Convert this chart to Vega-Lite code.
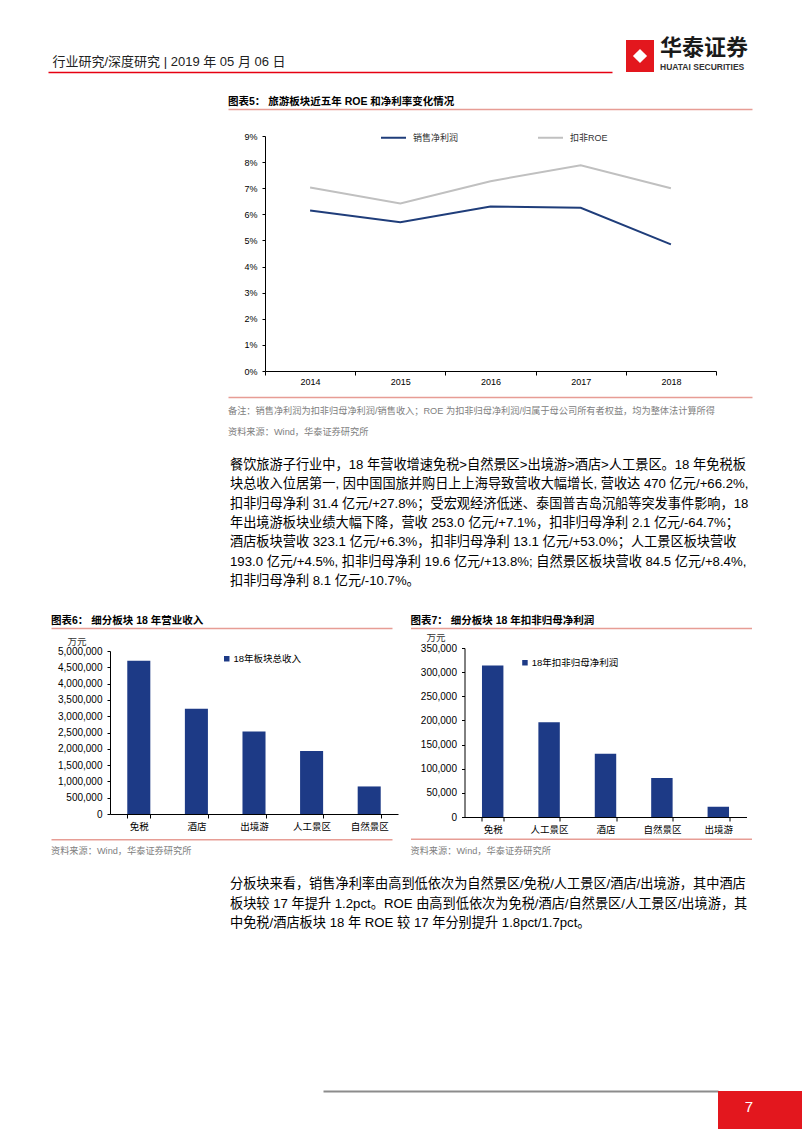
{
  "$schema": "https://vega.github.io/schema/vega-lite/v6.json",
  "background": "white",
  "padding": {"left": 48, "top": 36, "right": 0, "bottom": 0},
  "spacing": 0,
  "resolve": {"scale": {"color": "independent"}, "legend": {"color": "independent"}},
  "config": {
    "view": {"stroke": null},
    "font": "Liberation Sans, Noto Sans CJK SC",
    "axis": {"labelColor": "#000", "domainColor": "#000", "tickColor": "#000", "grid": false, "labelFont": "Liberation Sans, Noto Sans CJK SC", "titleFont": "Liberation Sans, Noto Sans CJK SC"},
    "title": {"fontWeight": "normal", "color": "#000", "font": "Liberation Sans, Noto Sans CJK SC"},
    "legend": {"labelFont": "Liberation Sans, Noto Sans CJK SC"}
  },
  "vconcat": [
    {
      "spacing": 14,
      "hconcat": [
        {
          "width": 564, "height": 32,
          "data": {"values": [{"v": 0}, {"v": 1}]},
          "mark": {"type": "rule", "opacity": 0, "strokeWidth": 0},
          "encoding": {"x": {"field": "v", "type": "quantitative", "scale": {"domain": [0, 1], "nice": false}, "axis": {"orient": "bottom", "domainColor": "#e60012", "domainWidth": 1.5, "ticks": false, "labels": false, "grid": false, "title": "行业研究/深度研究  | 2019 年 05 月 06 日", "titleX": 4, "titleY": -7, "titleAlign": "left", "titleAnchor": "start", "titleBaseline": "alphabetic", "titleFontSize": 13, "titleFontWeight": "normal", "titleColor": "#222"}}}
        },
        {
          "spacing": 6,
          "hconcat": [
            {
              "width": 28, "height": 32,
              "view": {"fill": "#e3171e", "stroke": null},
              "data": {"values": [{"k": 1}]},
              "mark": {"type": "point", "shape": "diamond", "filled": true, "color": "white", "opacity": 1, "size": 200},
              "encoding": {}
            },
            {
              "width": 90, "height": 32,
              "data": {"values": [{"k": 1}]},
              "mark": {"type": "point", "opacity": 0, "size": 0},
              "encoding": {},
              "title": {"text": "华泰证券", "subtitle": "HUATAI SECURITIES", "orient": "top", "anchor": "start", "offset": -32, "fontSize": 22, "fontWeight": "bold", "color": "#1a1a1a", "subtitleFontSize": 8.5, "subtitleColor": "#333", "subtitlePadding": 3, "subtitleFontWeight": "bold"}
            }
          ]
        }
      ]
    },
    {"width": 1, "height": 24, "data": {"values": [{}]}, "mark": {"type": "point", "opacity": 0, "size": 0}, "encoding": {}},
    {
      "spacing": 0,
      "resolve": {"scale": {"color": "independent"}, "legend": {"color": "independent"}},
      "hconcat": [
        {"width": 180, "height": 1, "data": {"values": [{}]}, "mark": {"type": "point", "opacity": 0, "size": 0}, "encoding": {}},
        {
          "spacing": 0,
          "resolve": {"scale": {"color": "independent"}, "legend": {"color": "independent"}},
          "vconcat": [
            {
              "width": 524, "height": 15,
              "data": {"values": [{"v": 0}, {"v": 1}]},
              "mark": {"type": "rule", "opacity": 0, "strokeWidth": 0},
              "encoding": {"x": {"field": "v", "type": "quantitative", "scale": {"domain": [0, 1], "nice": false}, "axis": {"orient": "top", "domainColor": "#e79d95", "domainWidth": 1.5, "ticks": false, "labels": false, "grid": false, "title": null}}},
              "title": {"text": "图表5：  旅游板块近五年 ROE 和净利率变化情况", "orient": "top", "anchor": "start", "offset": 2, "fontSize": 10.5, "fontWeight": "bold", "color": "#000"}
            },
            {
              "spacing": 0,
              "resolve": {"scale": {"color": "independent"}, "legend": {"color": "independent"}},
              "hconcat": [
                {"width": 1, "height": 1, "data": {"values": [{}]}, "mark": {"type": "point", "opacity": 0, "size": 0}, "encoding": {}},
                {
                  "width": 451, "height": 235,
                  "data": {"values": [
                    {"year": "2014", "series": "销售净利润", "value": 0.0615},
                    {"year": "2015", "series": "销售净利润", "value": 0.0570},
                    {"year": "2016", "series": "销售净利润", "value": 0.0630},
                    {"year": "2017", "series": "销售净利润", "value": 0.0625},
                    {"year": "2018", "series": "销售净利润", "value": 0.0485},
                    {"year": "2014", "series": "扣非ROE", "value": 0.0703},
                    {"year": "2015", "series": "扣非ROE", "value": 0.0642},
                    {"year": "2016", "series": "扣非ROE", "value": 0.0727},
                    {"year": "2017", "series": "扣非ROE", "value": 0.0788},
                    {"year": "2018", "series": "扣非ROE", "value": 0.0700}
                  ]},
                  "mark": {"type": "line", "strokeWidth": 2},
                  "encoding": {
                    "x": {"field": "year", "type": "ordinal", "scale": {"type": "band", "paddingInner": 0, "paddingOuter": 0}, "axis": {"labelAngle": 0, "tickBand": "extent", "tickSize": 4, "labelPadding": 2, "labelFontSize": 9, "title": null}},
                    "y": {"field": "value", "type": "quantitative", "scale": {"domain": [0, 0.09], "nice": false}, "axis": {"values": [0, 0.01, 0.02, 0.03, 0.04, 0.05, 0.06, 0.07, 0.08, 0.09], "format": ".0%", "tickSize": 3, "labelPadding": 5, "labelFontSize": 9, "title": null, "minExtent": 36}},
                    "color": {"field": "series", "type": "nominal", "scale": {"domain": ["销售净利润", "扣非ROE"], "range": ["#1f3d7a", "#c0c0c0"]}, "legend": {"orient": "none", "legendX": 115, "legendY": -12, "direction": "horizontal", "title": null, "symbolType": "stroke", "symbolSize": 625, "symbolStrokeWidth": 2, "labelFontSize": 9, "labelColor": "#333", "columnPadding": 75, "padding": 0, "labelOffset": 6}}
                  }
                }
              ]
            },
            {
              "width": 524, "height": 11,
              "data": {"values": [{"v": 0}, {"v": 1}]},
              "mark": {"type": "rule", "opacity": 0, "strokeWidth": 0},
              "encoding": {"x": {"field": "v", "type": "quantitative", "scale": {"domain": [0, 1], "nice": false}, "axis": {"orient": "bottom", "domainColor": "#e79d95", "domainWidth": 1.5, "ticks": false, "labels": false, "grid": false, "title": null}}},
              "title": {"text": ["备注：销售净利润为扣非归母净利润/销售收入；ROE 为扣非归母净利润/归属于母公司所有者权益，均为整体法计算所得", "资料来源：Wind，华泰证券研究所"], "orient": "bottom", "anchor": "start", "offset": 10, "fontSize": 9.2, "lineHeight": 21, "color": "#808080", "fontWeight": "normal"}
            }
          ]
        }
      ]
    },
    {
      "spacing": 0,
      "hconcat": [
        {"width": 182, "height": 1, "data": {"values": [{}]}, "mark": {"type": "point", "opacity": 0, "size": 0}, "encoding": {}},
        {
          "width": 520, "height": 1,
          "data": {"values": [{}]}, "mark": {"type": "point", "opacity": 0, "size": 0}, "encoding": {},
          "title": {"text": [
            "餐饮旅游子行业中，18 年营收增速免税>自然景区>出境游>酒店>人工景区。18 年免税板",
            "块总收入位居第一, 因中国国旅并购日上上海导致营收大幅增长, 营收达 470 亿元/+66.2%,",
            "扣非归母净利 31.4 亿元/+27.8%；受宏观经济低迷、泰国普吉岛沉船等突发事件影响，18",
            "年出境游板块业绩大幅下降，营收 253.0 亿元/+7.1%，扣非归母净利 2.1 亿元/-64.7%；",
            "酒店板块营收 323.1 亿元/+6.3%，扣非归母净利 13.1 亿元/+53.0%；人工景区板块营收",
            "193.0 亿元/+4.5%, 扣非归母净利 19.6 亿元/+13.8%; 自然景区板块营收 84.5 亿元/+8.4%,",
            "扣非归母净利 8.1 亿元/-10.7%。"
          ], "orient": "bottom", "anchor": "start", "offset": 20, "fontSize": 13.2, "lineHeight": 19.3, "color": "#000", "fontWeight": "normal"}
        }
      ]
    },
    {"width": 1, "height": 28, "data": {"values": [{}]}, "mark": {"type": "point", "opacity": 0, "size": 0}, "encoding": {}},
    {
      "spacing": 0,
      "resolve": {"scale": {"color": "independent"}, "legend": {"color": "independent"}},
      "hconcat": [
        {"width": 3, "height": 1, "data": {"values": [{}]}, "mark": {"type": "point", "opacity": 0, "size": 0}, "encoding": {}},
        {
          "spacing": 12.5,
          "resolve": {"scale": {"color": "independent"}, "legend": {"color": "independent"}},
          "hconcat": [
            {
              "spacing": 0,
              "resolve": {"scale": {"color": "independent"}, "legend": {"color": "independent"}},
              "vconcat": [
                {
                  "width": 341, "height": 7.7,
                  "data": {"values": [{"v": 0}, {"v": 1}]},
                  "mark": {"type": "rule", "opacity": 0, "strokeWidth": 0},
                  "encoding": {"x": {"field": "v", "type": "quantitative", "scale": {"domain": [0, 1], "nice": false}, "axis": {"orient": "top", "domainColor": "#e79d95", "domainWidth": 1.5, "ticks": false, "labels": false, "grid": false, "title": null}}},
                  "title": {"text": "图表6：  细分板块 18 年营业收入", "orient": "top", "anchor": "start", "offset": 2, "fontSize": 10.5, "fontWeight": "bold", "color": "#000"}
                },
                {
                  "spacing": 0,
                  "resolve": {"scale": {"color": "independent"}, "legend": {"color": "independent"}},
                  "hconcat": [
                    {"width": 1, "height": 1, "data": {"values": [{}]}, "mark": {"type": "point", "opacity": 0, "size": 0}, "encoding": {}},
                    {
                      "width": 288, "height": 163,
                      "data": {"values": [
                        {"sector": "免税", "value": 4700000, "series": "18年板块总收入"},
                        {"sector": "酒店", "value": 3231000, "series": "18年板块总收入"},
                        {"sector": "出境游", "value": 2530000, "series": "18年板块总收入"},
                        {"sector": "人工景区", "value": 1930000, "series": "18年板块总收入"},
                        {"sector": "自然景区", "value": 845000, "series": "18年板块总收入"}
                      ]},
                      "mark": {"type": "bar"},
                      "encoding": {
                        "x": {"field": "sector", "type": "nominal", "sort": null, "scale": {"paddingInner": 0.6, "paddingOuter": 0.3}, "axis": {"labelAngle": 0, "tickBand": "extent", "tickSize": 4, "labelPadding": 3, "labelFontSize": 9.5, "title": null}},
                        "y": {"field": "value", "type": "quantitative", "scale": {"domain": [0, 5000000], "nice": false}, "axis": {"values": [0, 500000, 1000000, 1500000, 2000000, 2500000, 3000000, 3500000, 4000000, 4500000, 5000000], "format": ",d", "tickSize": 3, "labelPadding": 5, "labelFontSize": 10, "minExtent": 58, "title": "万元", "titleAngle": 0, "titleX": -43, "titleY": -10, "titleAlign": "left", "titleBaseline": "middle", "titleFontSize": 9.5, "titleFontWeight": "normal", "titleColor": "#333"}},
                        "color": {"field": "series", "type": "nominal", "scale": {"range": ["#1d3a86"]}, "legend": {"orient": "none", "legendX": 112, "legendY": 3, "title": null, "symbolType": "square", "symbolSize": 30, "labelFontSize": 9.5, "labelOffset": 2, "padding": 0}}
                      }
                    }
                  ]
                },
                {
                  "width": 341, "height": 8.3,
                  "data": {"values": [{"v": 0}, {"v": 1}]},
                  "mark": {"type": "rule", "opacity": 0, "strokeWidth": 0},
                  "encoding": {"x": {"field": "v", "type": "quantitative", "scale": {"domain": [0, 1], "nice": false}, "axis": {"orient": "bottom", "domainColor": "#e79d95", "domainWidth": 1.5, "ticks": false, "labels": false, "grid": false, "title": null}}},
                  "title": {"text": "资料来源：Wind，华泰证券研究所", "orient": "bottom", "anchor": "start", "offset": 8, "fontSize": 9.2, "color": "#808080", "fontWeight": "normal"}
                }
              ]
            },
            {
              "spacing": 0,
              "resolve": {"scale": {"color": "independent"}, "legend": {"color": "independent"}},
              "vconcat": [
                {
                  "width": 341, "height": 3.3,
                  "data": {"values": [{"v": 0}, {"v": 1}]},
                  "mark": {"type": "rule", "opacity": 0, "strokeWidth": 0},
                  "encoding": {"x": {"field": "v", "type": "quantitative", "scale": {"domain": [0, 1], "nice": false}, "axis": {"orient": "top", "domainColor": "#e79d95", "domainWidth": 1.5, "ticks": false, "labels": false, "grid": false, "title": null}}},
                  "title": {"text": "图表7：  细分板块 18 年扣非归母净利润", "orient": "top", "anchor": "start", "offset": 2, "fontSize": 10.5, "fontWeight": "bold", "color": "#000"}
                },
                {
                  "spacing": 0,
                  "resolve": {"scale": {"color": "independent"}, "legend": {"color": "independent"}},
                  "hconcat": [
                    {"width": 1, "height": 1, "data": {"values": [{}]}, "mark": {"type": "point", "opacity": 0, "size": 0}, "encoding": {}},
                    {
                      "width": 282, "height": 169,
                      "data": {"values": [
                        {"sector": "免税", "value": 314000, "series": "18年扣非归母净利润"},
                        {"sector": "人工景区", "value": 196000, "series": "18年扣非归母净利润"},
                        {"sector": "酒店", "value": 131000, "series": "18年扣非归母净利润"},
                        {"sector": "自然景区", "value": 81000, "series": "18年扣非归母净利润"},
                        {"sector": "出境游", "value": 21000, "series": "18年扣非归母净利润"}
                      ]},
                      "mark": {"type": "bar"},
                      "encoding": {
                        "x": {"field": "sector", "type": "nominal", "sort": null, "scale": {"paddingInner": 0.62, "paddingOuter": 0.31}, "axis": {"labelAngle": 0, "tickBand": "extent", "tickSize": 4, "labelPadding": 3, "labelFontSize": 9.5, "title": null}},
                        "y": {"field": "value", "type": "quantitative", "scale": {"domain": [0, 350000], "nice": false}, "axis": {"values": [0, 50000, 100000, 150000, 200000, 250000, 300000, 350000], "format": ",d", "tickSize": 3, "labelPadding": 5, "labelFontSize": 10, "minExtent": 52.3, "title": "万元", "titleAngle": 0, "titleX": -38.6, "titleY": -11, "titleAlign": "left", "titleBaseline": "middle", "titleFontSize": 9.5, "titleFontWeight": "normal", "titleColor": "#333"}},
                        "color": {"field": "series", "type": "nominal", "scale": {"range": ["#1d3a86"]}, "legend": {"orient": "none", "legendX": 55.7, "legendY": 10, "title": null, "symbolType": "square", "symbolSize": 30, "labelFontSize": 9.5, "labelOffset": 2, "padding": 0}}
                      }
                    }
                  ]
                },
                {
                  "width": 341, "height": 4.7,
                  "data": {"values": [{"v": 0}, {"v": 1}]},
                  "mark": {"type": "rule", "opacity": 0, "strokeWidth": 0},
                  "encoding": {"x": {"field": "v", "type": "quantitative", "scale": {"domain": [0, 1], "nice": false}, "axis": {"orient": "bottom", "domainColor": "#e79d95", "domainWidth": 1.5, "ticks": false, "labels": false, "grid": false, "title": null}}},
                  "title": {"text": "资料来源：Wind，华泰证券研究所", "orient": "bottom", "anchor": "start", "offset": 8, "fontSize": 9.2, "color": "#808080", "fontWeight": "normal"}
                }
              ]
            }
          ]
        }
      ]
    },
    {
      "spacing": 0,
      "hconcat": [
        {"width": 182, "height": 1, "data": {"values": [{}]}, "mark": {"type": "point", "opacity": 0, "size": 0}, "encoding": {}},
        {
          "width": 520, "height": 1,
          "data": {"values": [{}]}, "mark": {"type": "point", "opacity": 0, "size": 0}, "encoding": {},
          "title": {"text": [
            "分板块来看，销售净利率由高到低依次为自然景区/免税/人工景区/酒店/出境游，其中酒店",
            "板块较 17 年提升 1.2pct。ROE 由高到低依次为免税/酒店/自然景区/人工景区/出境游，其",
            "中免税/酒店板块 18 年 ROE 较 17 年分别提升 1.8pct/1.7pct。"
          ], "orient": "bottom", "anchor": "start", "offset": 20, "fontSize": 13.2, "lineHeight": 19.5, "color": "#000", "fontWeight": "normal"}
        }
      ]
    },
    {"width": 1, "height": 161, "data": {"values": [{}]}, "mark": {"type": "point", "opacity": 0, "size": 0}, "encoding": {}},
    {
      "spacing": 0,
      "hconcat": [
        {"width": 275, "height": 1, "data": {"values": [{}]}, "mark": {"type": "point", "opacity": 0, "size": 0}, "encoding": {}},
        {
          "width": 395, "height": 2,
          "data": {"values": [{"v": 0}, {"v": 1}]},
          "mark": {"type": "rule", "opacity": 0, "strokeWidth": 0},
          "encoding": {"x": {"field": "v", "type": "quantitative", "scale": {"domain": [0, 1], "nice": false}, "axis": {"orient": "top", "domainColor": "#8c8c8c", "domainWidth": 2, "ticks": false, "labels": false, "grid": false, "title": null}}}
        },
        {
          "width": 84, "height": 38,
          "view": {"fill": "#e3171e", "stroke": null},
          "data": {"values": [{"page": "7"}]},
          "mark": {"type": "text", "color": "white", "fontSize": 15, "dx": -11, "dy": -3},
          "encoding": {"text": {"field": "page"}}
        }
      ]
    }
  ]
}
